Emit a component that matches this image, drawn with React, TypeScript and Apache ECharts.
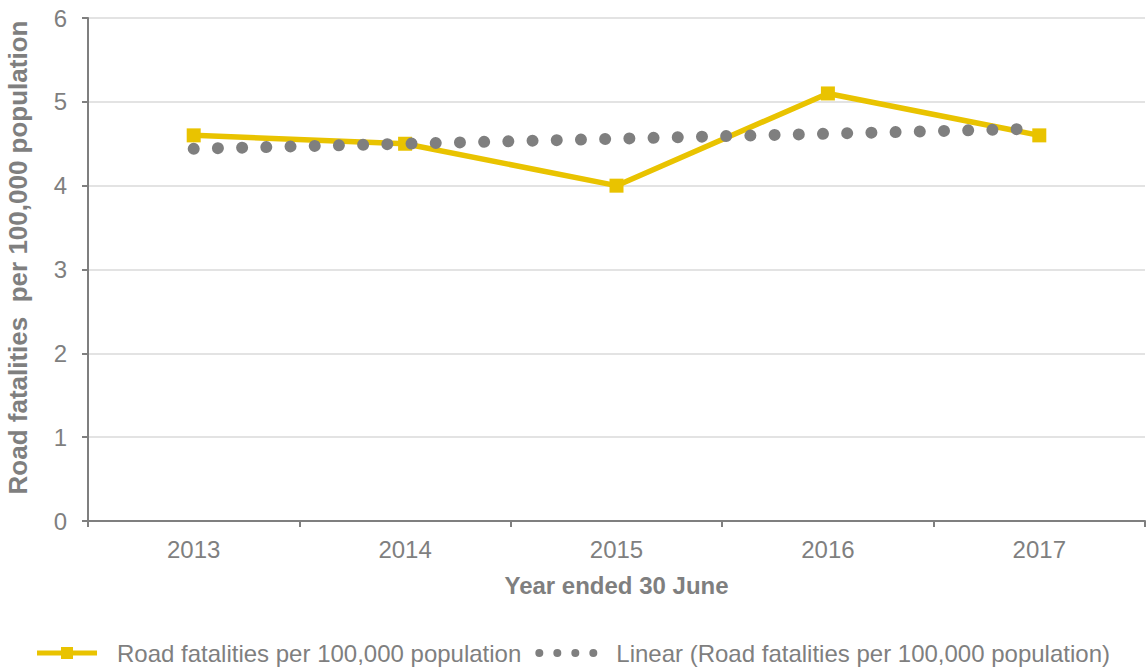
import React, { useEffect, useRef } from "react";
import * as echarts from "echarts";

const years = ["2013", "2014", "2015", "2016", "2017"];
const fatalities = [4.6, 4.5, 4.0, 5.1, 4.6];
const linearTrend = [4.44, 4.5, 4.56, 4.62, 4.68];
const yTicks = [0, 1, 2, 3, 4, 5, 6];

const seriesName = "Road fatalities per 100,000 population";
const trendName = "Linear (Road fatalities per 100,000 population)";

const GRAY = "#7f7f7f";
const YELLOW = "#E9C300";
const FONT = "'Liberation Sans', Arial, sans-serif";

// legend glyphs: a thick line with a square marker, and a row of four dots
const lineMarkerIcon = "path://M0,3.5H24V0H36V3.5H60V8.5H36V12H24V8.5H0Z";
const dotsIcon =
  "path://M0,4a4,4 0 1,0 8,0a4,4 0 1,0 -8,0Z" +
  "M18,4a4,4 0 1,0 8,0a4,4 0 1,0 -8,0Z" +
  "M36,4a4,4 0 1,0 8,0a4,4 0 1,0 -8,0Z" +
  "M54,4a4,4 0 1,0 8,0a4,4 0 1,0 -8,0Z";

export default function App() {
  const ref = useRef<HTMLDivElement>(null);

  useEffect(() => {
    if (!ref.current) return;
    const chart = echarts.init(ref.current, undefined, { renderer: "svg" });
    chart.setOption({
      animation: false,
      backgroundColor: "#ffffff",
      textStyle: { fontFamily: FONT },
      grid: {
        left: 88,
        right: 2,
        top: 18,
        bottom: 147,
        containLabel: false,
        outerBoundsMode: "none",
      },
      legend: {
        top: 636,
        left: "center",
        itemGap: 14,
        itemWidth: 62,
        itemHeight: 12,
        selectedMode: false,
        textStyle: {
          color: GRAY,
          fontSize: 24,
          fontFamily: FONT,
          padding: [0, 0, 0, 14],
        },
        data: [
          { name: seriesName, icon: lineMarkerIcon, itemStyle: { color: YELLOW } },
          { name: trendName, icon: dotsIcon, itemStyle: { color: GRAY } },
        ],
      },
      xAxis: {
        type: "category",
        data: years,
        boundaryGap: true,
        name: "Year ended 30 June",
        nameLocation: "middle",
        nameGap: 52,
        nameTextStyle: { color: GRAY, fontSize: 24, fontWeight: "bold", fontFamily: FONT },
        axisLine: { lineStyle: { color: GRAY, width: 2 } },
        axisTick: { show: true, length: 6, alignWithLabel: false, lineStyle: { color: GRAY, width: 2 } },
        axisLabel: { color: GRAY, fontSize: 24, margin: 16, fontFamily: FONT },
        splitLine: { show: false },
      },
      yAxis: {
        type: "value",
        min: yTicks[0],
        max: yTicks[yTicks.length - 1],
        interval: 1,
        name: "Road fatalities  per 100,000 population",
        nameLocation: "middle",
        nameGap: 57,
        nameRotate: 90,
        nameTextStyle: {
          color: GRAY,
          fontSize: 26,
          fontWeight: "bold",
          fontFamily: FONT,
          padding: [0, 0, 0, 24],
        },
        axisLine: { show: true, lineStyle: { color: GRAY, width: 2 } },
        axisTick: { show: true, length: 6, lineStyle: { color: GRAY, width: 2 } },
        axisLabel: { color: GRAY, fontSize: 24, margin: 21, fontFamily: FONT },
        splitLine: { show: true, lineStyle: { color: "#e3e3e3", width: 2 } },
      },
      series: [
        {
          name: trendName,
          type: "line",
          data: linearTrend,
          symbol: "none",
          z: 3,
          itemStyle: { color: GRAY },
          lineStyle: { color: GRAY, width: 12, type: [0.01, 24.2], cap: "round" },
        },
        {
          name: seriesName,
          type: "line",
          data: fatalities,
          symbol: "rect",
          symbolSize: 14,
          z: 2,
          itemStyle: { color: YELLOW },
          lineStyle: { color: YELLOW, width: 5.5 },
        },
      ],
    });
    return () => chart.dispose();
  }, []);

  return (
    <div
      ref={ref}
      style={{ position: "fixed", left: 0, top: 0, width: 1147, height: 668 }}
    />
  );
}
